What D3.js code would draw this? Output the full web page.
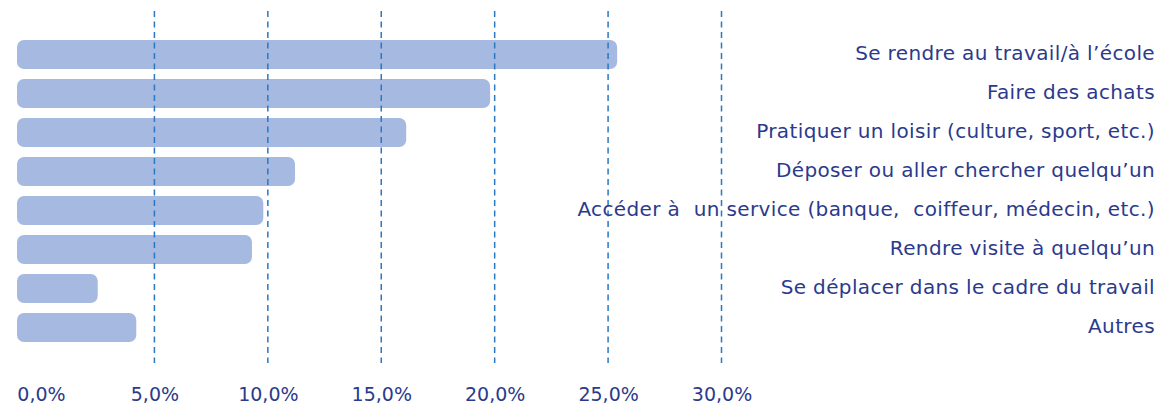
<!DOCTYPE html>
<html>
<head>
<meta charset="utf-8">
<script src="https://cdn.jsdelivr.net/npm/d3@7"></script>
<style>
  body { margin: 0; background: #fff; }
  text { font-family: "DejaVu Sans", sans-serif; fill: #2b3a8c; }
</style>
</head>
<body>
<div id="chart"></div>
<script>
// categories, top to bottom
var categories = [
  'Se rendre au travail/à l\u2019école',
  'Faire des achats',
  'Pratiquer un loisir (culture, sport, etc.)',
  'Déposer ou aller chercher quelqu\u2019un',
  'Accéder à  un service (banque,  coiffeur, médecin, etc.)',
  'Rendre visite à quelqu\u2019un',
  'Se déplacer dans le cadre du travail',
  'Autres'
];
// share of trips (%)
var values = [25.4, 19.8, 16.1, 11.2, 9.8, 9.3, 2.5, 4.2];
var tickValues = [0, 5, 10, 15, 20, 25, 30];

var width = 1161, height = 408;

var svg = d3.select('#chart').append('svg')
  .attr('width', width)
  .attr('height', height);

var x = d3.scaleLinear().domain([0, 30]).range([41, 721.5]);
var y = d3.scaleBand().domain(categories).range([35, 347])
  .paddingInner(0.256).paddingOuter(0.128);

// bars start a bit left of the zero line
var lead = 24;
svg.append('g').selectAll('rect')
  .data(values)
  .enter().append('rect')
  .attr('x', x(0) - lead)
  .attr('y', function(d, i) { return y(categories[i]); })
  .attr('width', function(d) { return x(d) - x(0) + lead; })
  .attr('height', y.bandwidth())
  .attr('rx', 7)
  .attr('fill', '#a6b9e0');

// dashed grid lines
svg.append('g').selectAll('line')
  .data(tickValues.filter(function(d) { return d > 0; }))
  .enter().append('line')
  .attr('x1', function(d) { return x(d); })
  .attr('x2', function(d) { return x(d); })
  .attr('y1', 11)
  .attr('y2', 363)
  .attr('stroke', '#2a78c4')
  .attr('stroke-width', 1.5)
  .attr('stroke-dasharray', '6,4.5');

// category labels, right aligned
svg.append('g').selectAll('text')
  .data(categories)
  .enter().append('text')
  .attr('x', 1155)
  .attr('y', function(d) { return y(d) + y.bandwidth() / 2; })
  .attr('dy', '0.28em')
  .attr('text-anchor', 'end')
  .style('white-space', 'pre')
  .style('font-size', '20px')
  .style('letter-spacing', '0.37px')
  .text(function(d) { return d; });

// x axis labels
var xAxis = d3.axisBottom(x)
  .tickValues(tickValues)
  .tickSize(0)
  .tickFormat(function(d) { return d.toFixed(1).replace('.', ',') + '%'; });

var ax = svg.append('g').attr('transform', 'translate(0,384)').call(xAxis);
ax.select('.domain').remove();
ax.selectAll('text')
  .attr('dy', '0.71em')
  .style('font-size', '19px')
  .style('font-family', '"DejaVu Sans", sans-serif')
  .attr('fill', '#2b3a8c');
</script>
</body>
</html>
